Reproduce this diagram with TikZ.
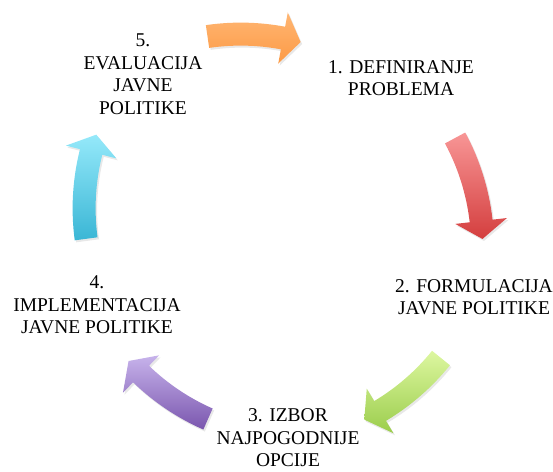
\documentclass[tikz,border=0pt]{standalone}
\usepackage{fontspec}
\setmainfont{Liberation Serif}
\usepackage{tikz}
\usetikzlibrary{calc, shadows}

\definecolor{orangetop}{HTML}{FFB673}
\definecolor{orangebot}{HTML}{FC9A45}
\definecolor{redtop}{HTML}{F89696}
\definecolor{redbot}{HTML}{D43E3E}
\definecolor{greentop}{HTML}{DDF7A0}
\definecolor{greenbot}{HTML}{9BCD4C}
\definecolor{purpletop}{HTML}{C7B3EB}
\definecolor{purplebot}{HTML}{7A56AE}
\definecolor{cyantop}{HTML}{95E9FA}
\definecolor{cyanbot}{HTML}{3AB6D5}

% curved block arrow: centre, start angle, end angle, top colour, bottom colour
\newcommand{\cyclearrow}[5]{%
  \path[drop shadow={opacity=0.18, shadow xshift=1.5pt, shadow yshift=-2pt},
        top color=#4, bottom color=#5]
    ($(#1)+(#2:241.5pt)$) arc[start angle=#2, end angle=#3, radius=241.5pt]
    -- ($(#1)+(#3:256pt)$) -- ($(#1)+({#3-4.5}:230pt)$) -- ($(#1)+(#3:204pt)$)
    -- ($(#1)+(#3:218.5pt)$) arc[start angle=#3, end angle=#2, radius=218.5pt]
    -- cycle;}

\tikzset{
  stage/.style={align=center, inner sep=0pt, font=\fontsize{19.5}{22.5}\selectfont}
}

\begin{document}
\begin{tikzpicture}[x=1pt, y=1pt]
  \useasboundingbox (0,0) rectangle (553,471);

  % stages
  \node[stage] (s1) at (401,393) {1. DEFINIRANJE\\PROBLEMA};
  \node[stage] (s2) at (474,174) {2. FORMULACIJA\\JAVNE POLITIKE};
  \node[stage] (s3) at (288,33) {3. IZBOR\\NAJPOGODNIJE\\OPCIJE};
  \node[stage] (s4) at (97,166) {4.\\IMPLEMENTACIJA\\JAVNE POLITIKE};
  \node[stage] (s5) at (143,397) {5.\\EVALUACIJA\\JAVNE\\POLITIKE};

  % arrow centres
  \coordinate (c51) at (240.7,206.9);
  \coordinate (c12) at (252.6,224);
  \coordinate (c23) at (262,257.4);
  \coordinate (c34) at (300.8,262.4);
  \coordinate (c45) at (314.1,262.6);

  \cyclearrow{c51}{98.3}{79.4}{orangetop}{orangebot}
  \cyclearrow{c12}{28.3}{6.5}{redtop}{redbot}
  \cyclearrow{c23}{-38.9}{-59.1}{greentop}{greenbot}
  \cyclearrow{c34}{-113.8}{-134}{purpletop}{purplebot}
  \cyclearrow{c45}{187.6}{165.8}{cyantop}{cyanbot}
\end{tikzpicture}
\end{document}
